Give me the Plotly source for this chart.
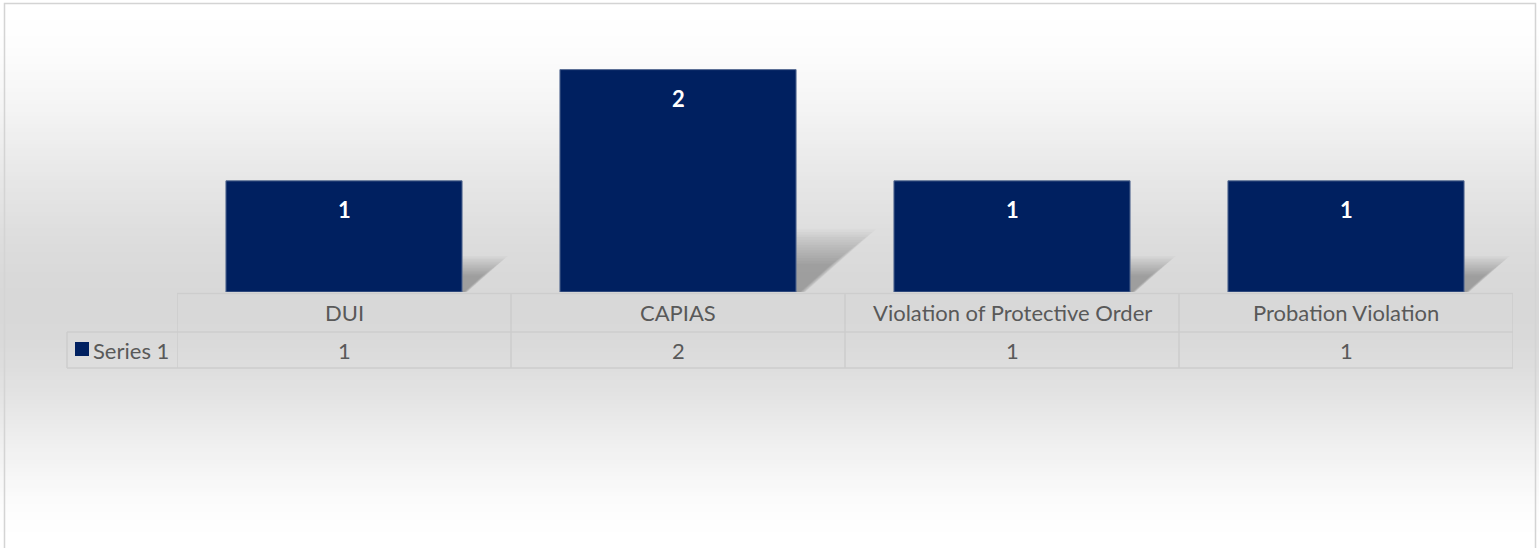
import plotly.graph_objects as go

# Datos
categorias = ["DUI", "CAPIAS", "Violation of Protective Order", "Probation Violation"]
valores = [1, 2, 1, 1]
serie = "Series 1"

COLOR_BARRA = "#002060"
COLOR_TEXTO = "#595959"
COLOR_GRID = "#cdcdcd"
FUENTE = "Lato"
TAM = 22

W, H = 1539, 548
ML, MR, MT, MB = 177, 26, 14, 256
PW, PH = W - ML - MR, H - MT - MB


def px_x(px):
    """Pixel horizontal -> coordenada paper."""
    return (px - ML) / PW


def px_y(py):
    """Pixel vertical -> coordenada paper."""
    return (H - MB - py) / PH


def gris(py):
    # degradado blanco -> gris -> blanco (suavizado)
    centro = 310
    if py < centro:
        t = py / centro
    else:
        t = 1 - (py - centro) / (H - centro)
    t = t * t * (3 - 2 * t)
    v = int(round(255 - (255 - 216) * t))
    return f"rgb({v},{v},{v})"


shapes = []

# Fondo degradado
paso = 4
for py in range(0, H, paso):
    shapes.append(dict(
        type="rect", xref="paper", yref="paper", layer="below",
        x0=px_x(0), x1=px_x(W), y0=px_y(py + paso + 1), y1=px_y(py),
        fillcolor=gris(py + paso / 2), line=dict(width=0)
    ))

# Borde del grafico
shapes.append(dict(
    type="rect", xref="paper", yref="paper", layer="above",
    x0=px_x(4.5), x1=px_x(1535.5), y0=px_y(551), y1=px_y(3.5),
    line=dict(color="#d4d4d4", width=1.5)
))

# Sombras de las barras (aprox. del efecto difuminado de Excel)
media = 0.353
for i, v in enumerate(valores):
    h = 0.2 * v + 0.07
    w = 0.115 * (h / 0.27)
    x0 = i + media
    for k in range(14):
        f = 1.2 - k * 0.05
        path = (f"M {x0},0 L {x0},{h * f} "
                f"L {x0 + w * f},{h * f} L {x0 + w * 0.12 * f},0 Z")
        shapes.append(dict(
            type="path", xref="x", yref="y", layer="below", path=path,
            fillcolor="rgba(0,0,0,0.019)", line=dict(width=0)
        ))

# Tabla de datos: lineas
y_top, y_mid, y_bot = 293.5, 332, 368
for py, xa in [(y_top, ML), (y_mid, 67), (y_bot, 67)]:
    shapes.append(dict(
        type="line", xref="paper", yref="paper", layer="below",
        x0=px_x(xa), x1=px_x(W - MR), y0=px_y(py), y1=px_y(py),
        line=dict(color=COLOR_GRID, width=1.5)
    ))
for i in range(len(categorias) + 1):
    shapes.append(dict(
        type="line", xref="x", yref="paper", layer="below",
        x0=i - 0.5, x1=i - 0.5, y0=px_y(y_top), y1=px_y(y_bot),
        line=dict(color=COLOR_GRID, width=1.5)
    ))
shapes.append(dict(
    type="line", xref="paper", yref="paper", layer="below",
    x0=px_x(67), x1=px_x(67), y0=px_y(y_mid), y1=px_y(y_bot),
    line=dict(color=COLOR_GRID, width=1.5)
))

# Clave de leyenda
shapes.append(dict(
    type="rect", xref="paper", yref="paper", layer="above",
    x0=px_x(75), x1=px_x(89), y0=px_y(356), y1=px_y(342),
    fillcolor=COLOR_BARRA, line=dict(width=0)
))

annotations = []
for cat, v in zip(categorias, valores):
    # etiqueta de datos
    annotations.append(dict(
        x=cat, y=v, xref="x", yref="y", text=f"<b>{v}</b>", showarrow=False,
        yanchor="middle", yshift=-29,
        font=dict(family=FUENTE, size=TAM, color="white")
    ))
    # fila de categorias
    annotations.append(dict(
        x=cat, y=px_y(312), xref="x", yref="paper", text=cat, showarrow=False,
        yanchor="middle", font=dict(family=FUENTE, size=TAM, color=COLOR_TEXTO)
    ))
    # fila de valores
    annotations.append(dict(
        x=cat, y=px_y(350), xref="x", yref="paper", text=str(v), showarrow=False,
        yanchor="middle", font=dict(family=FUENTE, size=TAM, color=COLOR_TEXTO)
    ))

annotations.append(dict(
    x=px_x(91), y=px_y(350), xref="paper", yref="paper", text=serie,
    showarrow=False, xanchor="left", yanchor="middle",
    font=dict(family=FUENTE, size=TAM, color=COLOR_TEXTO)
))

fig = go.Figure(go.Bar(
    x=categorias,
    y=valores,
    name=serie,
    width=0.707,
    marker=dict(color=COLOR_BARRA, line=dict(color="#5b6f95", width=1)),
    hoverinfo="x+y"
))

fig.update_layout(
    width=W, height=H,
    margin=dict(l=ML, r=MR, t=MT, b=MB),
    paper_bgcolor="white",
    plot_bgcolor="rgba(0,0,0,0)",
    showlegend=False,
    shapes=shapes,
    annotations=annotations,
    xaxis=dict(range=[-0.5, 3.5], showticklabels=False, showgrid=False,
               zeroline=False, showline=False, ticks=""),
    yaxis=dict(range=[0, 2.5], visible=False, showgrid=False, zeroline=False),
    font=dict(family=FUENTE),
)

# quitar el margen del body para que el grafico ocupe toda la ventana
fig.write_html("out.html", config={"displayModeBar": False},
               post_script="document.body.style.margin='0';")
